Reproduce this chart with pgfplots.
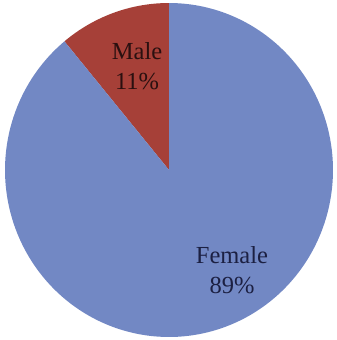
\documentclass[border=0pt]{standalone}
\usepackage{pgfplots}
\usepackage{pgfplotstable}
\usepackage{fontspec}
\setmainfont{Liberation Serif}
\pgfplotsset{compat=1.18}

\definecolor{femaleBlue}{RGB}{114,136,196}
\definecolor{maleRed}{RGB}{166,64,56}
\definecolor{femaleText}{RGB}{28,32,66}
\definecolor{maleText}{RGB}{42,16,16}

% Share of respondents by gender (percent)
\pgfplotstableread{
label value
Male 11
Female 89
}\piedata
\pgfplotstablegetelem{0}{value}\of\piedata \let\maleval\pgfplotsretval
\pgfplotstablegetelem{1}{value}\of\piedata \let\femaleval\pgfplotsretval
\pgfmathsetmacro\splitangle{90+3.6*\maleval}
\pgfmathsetmacro\endangle{\splitangle+3.6*\femaleval}

\begin{document}
\begin{tikzpicture}
\begin{axis}[
  hide axis, scale only axis,
  width=337bp, height=340bp,
  xmin=-1.0305, xmax=1.0244,
  ymin=-1.018, ymax=1.018,
  clip=false,
]
  % keep the whole plot area as the picture's extent
  \path (rel axis cs:0,0) rectangle (rel axis cs:1,1);
  % male wedge, starting at twelve o'clock and running counter-clockwise
  \addplot[fill=maleRed, draw=none, domain=90:\splitangle, samples=60]
    ({cos(x)},{sin(x)}) -- (axis cs:0,0) -- cycle;
  % female wedge, the rest of the circle
  \addplot[fill=femaleBlue, draw=none, domain=\splitangle:\endangle, samples=240]
    ({cos(x)},{sin(x)}) -- (axis cs:0,0) -- cycle;

  \node[align=center, text=maleText, font=\fontsize{24.5bp}{30bp}\selectfont]
    at (axis cs:-0.195,0.623) {Male\\\maleval\%};
  \node[align=center, text=femaleText, font=\fontsize{24.5bp}{30bp}\selectfont]
    at (axis cs:0.384,-0.599) {Female\\\femaleval\%};
\end{axis}
\end{tikzpicture}
\end{document}
